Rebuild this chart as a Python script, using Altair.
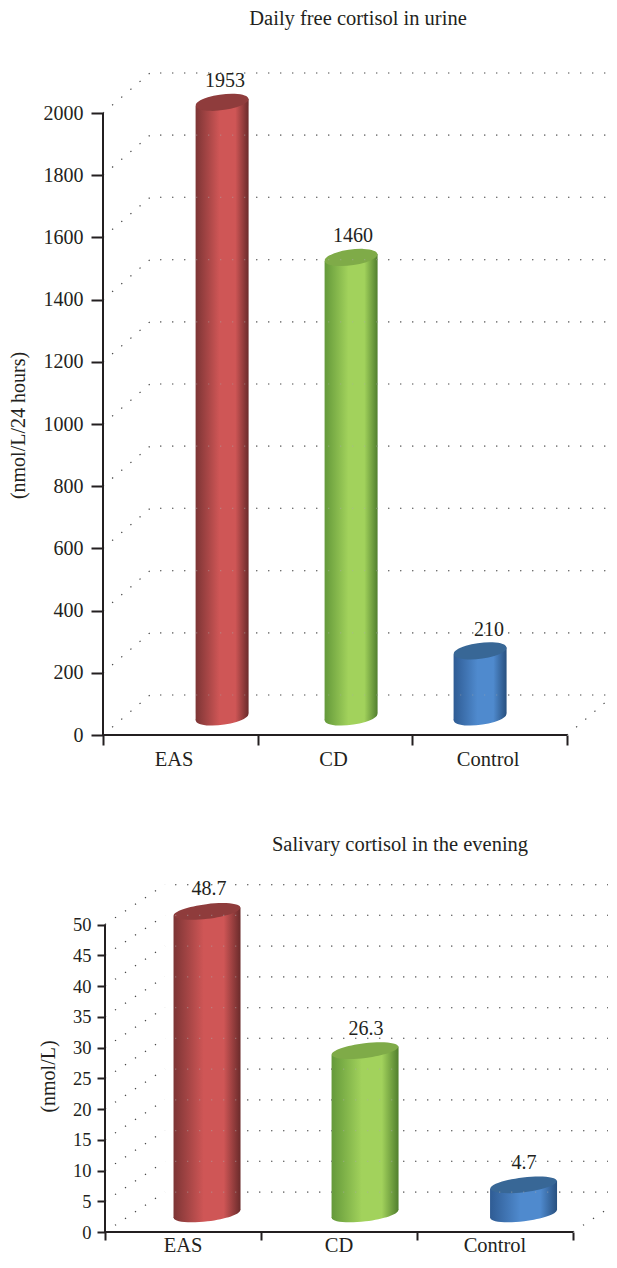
import altair as alt
import pandas as pd

groups = ["EAS", "CD", "Control"]
urine_values = [1953, 1460, 210]
saliva_values = [48.7, 26.3, 4.7]
urine_ticks = [0, 200, 400, 600, 800, 1000, 1200, 1400, 1600, 1800, 2000]
saliva_ticks = [0, 5, 10, 15, 20, 25, 30, 35, 40, 45, 50]

INK = "#231f20"
FONT = "Liberation Serif"
PALETTE = [
    ("#7d3535", "#cf5656", "#6a2b2b", "#8f3c3c"),
    ("#64993a", "#a2d25c", "#517f2e", "#7fab48"),
    ("#2f5c94", "#4f8ace", "#28507f", "#386796"),
]


def panel(values, ticks, title, ytitle, geo):
    ppx = geo["ppx"]          # px per y unit
    upx = geo["upx"]          # px per x unit
    left = geo["left"]
    xs = alt.Scale(domain=[-left / upx, (509 - left) / upx], nice=False, zero=False)
    ys = alt.Scale(domain=[0, geo["h"] / ppx], nice=False, zero=False)
    X = lambda f: alt.X(f, type="quantitative", scale=xs, title=None,
                        axis=alt.Axis(values=[0, 1, 2, 3], labels=False, domain=False, grid=False,
                                      tickSize=geo["xtick"], tickWidth=2, tickColor=INK))
    Y = lambda f: alt.Y(f, type="quantitative", scale=ys, title=None,
                        axis=alt.Axis(values=ticks, format="d", domain=False, grid=False, tickSize=geo["ytick"],
                                      tickWidth=2, tickColor=INK, offset=-left,
                                      labelFont=FONT, labelFontSize=geo["fs"], labelColor=INK,
                                      labelPadding=geo["lp"], title=ytitle, titleFont=FONT,
                                      titleFontSize=geo["tfs"], titleFontWeight="normal", titleColor=INK,
                                      titleX=geo["tx"], titleY=geo["ty"]))
    dx, dy = geo["dx"] / upx, geo["dy"] / ppx
    xend = (509 - left) / upx
    layers = []
    dash = dict(strokeDash=[1.3, 10.7], strokeWidth=1.2)

    side = pd.DataFrame({"x": 0.0, "x2": dx, "y": ticks})
    side["y2"] = side["y"] + dy
    layers.append(alt.Chart(side).mark_rule(color="#444", **dash).encode(
        x=X("x"), x2="x2", y=Y("y"), y2="y2"))
    back = pd.DataFrame({"x": dx + 10 / upx, "x2": xend, "y": [t + dy for t in ticks]})
    back_rule = alt.Chart(back).mark_rule(color="#444", **dash).encode(x=X("x"), x2="x2", y=Y("y"))
    layers.append(back_rule)
    reach = min(1.0, (xend - 3) / dx)
    floor = pd.DataFrame({"x": [3.0], "x2": [3 + dx * reach], "y": [0.0], "y2": [dy * reach]})
    layers.append(alt.Chart(floor).mark_rule(color="#444", **dash).encode(
        x=X("x"), x2="x2", y=Y("y"), y2="y2"))

    hw = geo["cw"] / 2 / upx
    t = geo["tilt"] / ppx
    for i, v in enumerate(values):
        edge, mid, edge2, cap = PALETTE[i]
        cx = geo["cx"][i]
        base = geo["base"]
        top = base + v * geo["k"]
        grad = alt.Gradient(gradient="linear", x1=0, x2=1, y1=0, y2=0, stops=[
            alt.GradientStop(offset=0, color=edge),
            alt.GradientStop(offset=0.45, color=mid),
            alt.GradientStop(offset=0.75, color=mid),
            alt.GradientStop(offset=1, color=edge2)])
        pt = pd.DataFrame({"x": [cx], "yb": [base], "yt": [top]})
        layers.append(alt.Chart(pt).mark_point(filled=True, fill=grad, opacity=1, strokeWidth=0,
                                               shape=geo["shape"], size=geo["cw"] ** 2).encode(
            x=X("x"), y=Y("yb")))
        body = pd.DataFrame({"x": [cx - hw, cx + hw], "y": [top - t, top + t], "y2": [base - t, base + t]})
        layers.append(alt.Chart(body).mark_area(fill=grad, opacity=1).encode(
            x=X("x"), y=Y("y"), y2="y2"))
        layers.append(alt.Chart(pt).mark_point(filled=True, fill=cap, opacity=1, strokeWidth=0,
                                               shape=geo["shape"], size=geo["cw"] ** 2).encode(
            x=X("x"), y=Y("yt")))

    layers.append(alt.Chart(back).mark_rule(color="#aaa", opacity=0.45, **dash).encode(
        x=X("x"), x2="x2", y=Y("y")))

    yaxis = pd.DataFrame({"x": [0.0], "y": [ticks[0]], "y2": [ticks[-1]]})
    layers.append(alt.Chart(yaxis).mark_rule(color=INK, strokeWidth=2).encode(x=X("x"), y=Y("y"), y2="y2"))
    xaxis = pd.DataFrame({"x": [0.0], "x2": [3.0], "y": [0.0]})
    layers.append(alt.Chart(xaxis).mark_rule(color=INK, strokeWidth=2).encode(x=X("x"), x2="x2", y=Y("y")))

    vals = pd.DataFrame({"x": geo["vx"],
                         "y": [geo["base"] + v * geo["k"] for v in values],
                         "t": [str(v) for v in values]})
    layers.append(alt.Chart(vals).mark_text(font=FONT, fontSize=20, color=INK, baseline="middle",
                                            dy=geo["vdy"]).encode(x=X("x"), y=Y("y"), text="t:N"))
    cats = pd.DataFrame({"x": geo["lx"], "y": 0.0, "t": groups})
    layers.append(alt.Chart(cats).mark_text(font=FONT, fontSize=20.5, color=INK, baseline="middle",
                                            dy=geo["ldy"]).encode(x=X("x"), y=Y("y"), text="t:N"))
    head = pd.DataFrame({"x": [(geo["tcx"] - left) / upx], "y": [geo["tcy"] / ppx], "t": [title]})
    layers.append(alt.Chart(head).mark_text(font=FONT, fontSize=20.5, color=INK, baseline="middle").encode(
        x=X("x"), y=Y("y"), text="t:N"))
    return alt.layer(*layers).properties(width=509, height=geo["h"])


shape_a = "M-0.991,0.13 A1,0.29 -7.5 1,1 0.991,-0.13 A1,0.29 -7.5 1,1 -0.991,0.13 Z"
shape_b = "M-0.993,0.12 A1,0.22 -7 1,1 0.993,-0.12 A1,0.22 -7 1,1 -0.993,0.12 Z"

geo_top = dict(ppx=0.311, upx=154.67, left=0, h=727, xtick=10, ytick=12, fs=20, tfs=20, lp=8,
               tx=-75, ty=417, dx=47, dy=40, cw=53, tilt=3.5, base=58, k=1.012, shape=shape_a,
               cx=[0.77, 1.604, 2.438], vx=[0.788, 1.617, 2.496], vdy=-21,
               lx=[0.46, 1.49, 2.49], ldy=25, tcx=255, tcy=716)
geo_bot = dict(ppx=6.15, upx=156.0, left=2, h=398, xtick=8, ytick=8, fs=18.5, tfs=20, lp=6,
               tx=-47, ty=242, dx=60, dy=6.5 * 6.15, cw=67, tilt=4, base=2.93, k=1.01, shape=shape_b,
               cx=[0.654, 1.667, 2.683], vx=[0.667, 1.673, 2.686], vdy=-22,
               lx=[0.5, 1.5, 2.5], ldy=14, tcx=297, tcy=387)

top = panel(urine_values, urine_ticks, "Daily free cortisol in urine", "(nmol/L/24 hours)", geo_top)
bot = panel(saliva_values, saliva_ticks, "Salivary cortisol in the evening", "(nmol/L)", geo_bot)

chart = alt.vconcat(top, bot, spacing=63, padding={"left": 0, "top": 0, "right": -5, "bottom": -2}).configure_view(stroke=None)
chart.save("out.html", embed_options={"renderer": "svg", "actions": False})
